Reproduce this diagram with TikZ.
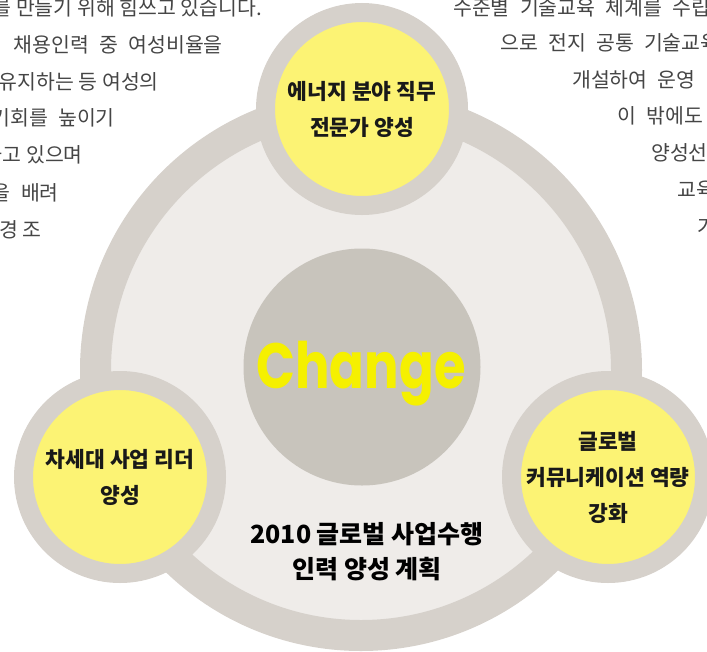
\documentclass[tikz,border=0pt]{standalone}
\usepackage{fontspec}
\setmainfont{Noto Sans CJK KR}
\newfontfamily\changefont{Poppins}
\usepackage{tikz}
\usetikzlibrary{positioning}
\usepackage{xcolor}

\definecolor{ringgray}{HTML}{D6D1CB}
\definecolor{innerbg}{HTML}{EFECE9}
\definecolor{coregray}{HTML}{C8C4BC}
\definecolor{padyellow}{HTML}{FCF374}
\definecolor{changeyellow}{HTML}{F5F000}
\definecolor{bodygray}{HTML}{454545}

\tikzset{
  goal/.style={circle, draw=ringgray, line width=19pt, fill=padyellow,
    minimum size=193pt, inner sep=0pt, align=center, text=black!90,
    font=\bfseries\fontsize{21.5}{36}\selectfont},
  bodyline/.style={inner sep=0pt, text=bodygray,
    font=\fontsize{20.5}{20.5}\selectfont}
}

\begin{document}
\begin{tikzpicture}[x=1pt,y=-1pt]
    \useasboundingbox (0,0) rectangle (707,651);
    \clip (0,0) rectangle (707,651);
    % page text running round the picture
    \foreach \n/\x/\y/\txt in {1/262/8/{를 만들기 위해 힘쓰고 있습니다.},
                               2/223/45/{채용인력\enspace 중\enspace 여성비율을},
                               3/159/82/{유지하는 등 여성의},
                               4/115/118/{기회를\enspace 높이기},
                               5/83/155/{하고 있으며},
                               6/59/193/{을\enspace 배려},
                               7/42/230/{경 조}} {
      \node[bodyline, anchor=east] (left\n) at (\x,\y) {\txt};
    }
    \foreach \n/\x/\y/\txt in {1/453/8/{수준별\enspace 기술교육\enspace 체계를\enspace 수립},
                               2/500/43/{으로\enspace 전지\enspace 공통\enspace 기술교육},
                               3/572/80/{개설하여\enspace 운영},
                               4/617/116/{이\enspace 밖에도},
                               5/651/153/{양성선},
                               6/677/190/{교육},
                               7/697/227/{가}} {
      \node[bodyline, anchor=west] (right\n) at (\x,\y) {\txt};
    }
    % big ring and core
    \node[circle, fill=innerbg, draw=ringgray, line width=31pt,
          minimum size=531pt] (ring) at (361,370) {};
    \node[circle, fill=coregray, minimum size=237pt, inner sep=0pt]
          (core) at (362,367) {};
    \node[anchor=base, inner sep=0pt, text=changeyellow, xscale=0.8,
          font=\changefont\bfseries\fontsize{64}{64}\selectfont]
          (change) at (361,388) {Change};
    \node[align=center, inner sep=0pt, text=black,
          font=\bfseries\fontsize{25}{35}\selectfont] (plan) at (367,552)
          {2010 글로벌 사업수행\\인력 양성 계획};
    % the three goals
    \node[goal] (energy) at (362,109) {에너지 분야 직무\\전문가 양성};
    \node[goal] (leader) at (120,477) {차세대 사업 리더\\양성};
    \node[goal] (global) at (608,477) {글로벌\\커뮤니케이션 역량\\강화};
\end{tikzpicture}
\end{document}
